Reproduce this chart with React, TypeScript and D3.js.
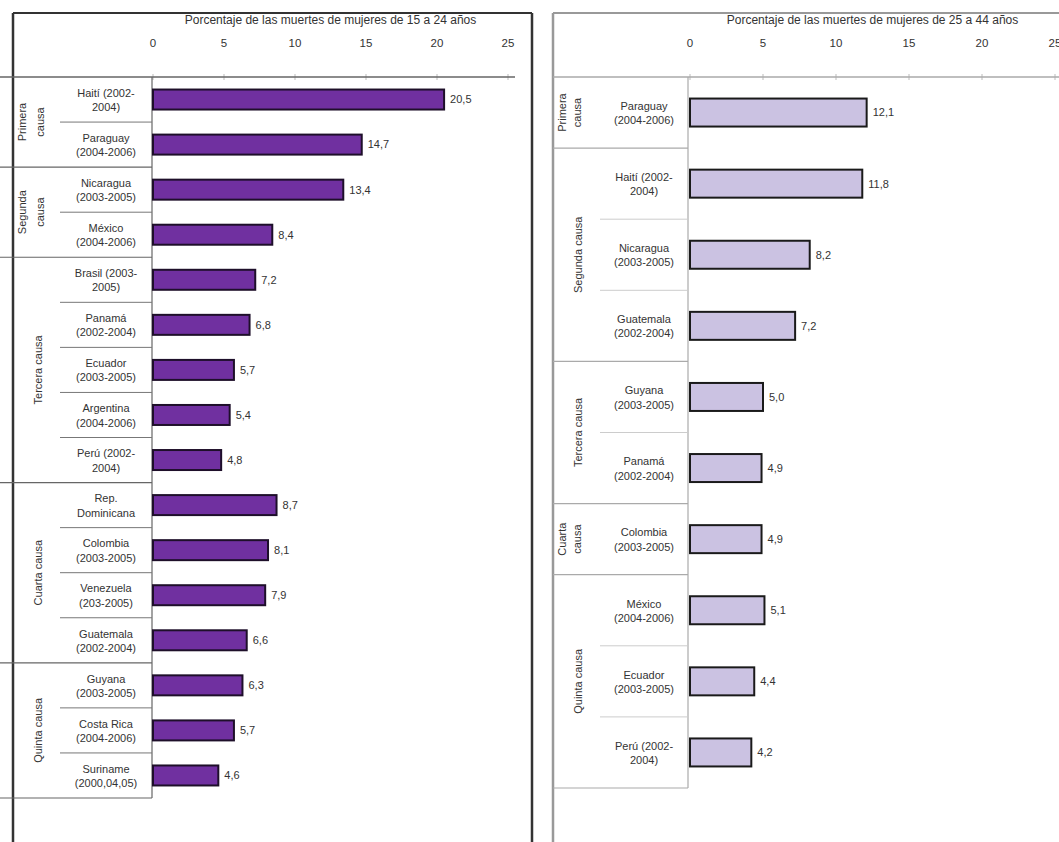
import React from "react";
import * as d3 from "d3";

const leftTitle = "Porcentaje de las muertes de mujeres de 15 a 24 años";
const rightTitle = "Porcentaje de las muertes de mujeres de 25 a 44 años";
const ticks = [0, 5, 10, 15, 20, 25];

const leftLabels = [
  ["Haití (2002-", "2004)"],
  ["Paraguay", "(2004-2006)"],
  ["Nicaragua", "(2003-2005)"],
  ["México", "(2004-2006)"],
  ["Brasil (2003-", "2005)"],
  ["Panamá", "(2002-2004)"],
  ["Ecuador", "(2003-2005)"],
  ["Argentina", "(2004-2006)"],
  ["Perú (2002-", "2004)"],
  ["Rep.", "Dominicana"],
  ["Colombia", "(2003-2005)"],
  ["Venezuela", "(203-2005)"],
  ["Guatemala", "(2002-2004)"],
  ["Guyana", "(2003-2005)"],
  ["Costa Rica", "(2004-2006)"],
  ["Suriname", "(2000,04,05)"],
];
const leftValues = [20.5, 14.7, 13.4, 8.4, 7.2, 6.8, 5.7, 5.4, 4.8, 8.7, 8.1, 7.9, 6.6, 6.3, 5.7, 4.6];
const leftGroupNames = [["Primera", "causa"], ["Segunda", "causa"], ["Tercera causa"], ["Cuarta causa"], ["Quinta causa"]];
const leftGroupSizes = [2, 2, 5, 4, 3];

const rightLabels = [
  ["Paraguay", "(2004-2006)"],
  ["Haití (2002-", "2004)"],
  ["Nicaragua", "(2003-2005)"],
  ["Guatemala", "(2002-2004)"],
  ["Guyana", "(2003-2005)"],
  ["Panamá", "(2002-2004)"],
  ["Colombia", "(2003-2005)"],
  ["México", "(2004-2006)"],
  ["Ecuador", "(2003-2005)"],
  ["Perú (2002-", "2004)"],
];
const rightValues = [12.1, 11.8, 8.2, 7.2, 5.0, 4.9, 4.9, 5.1, 4.4, 4.2];
const rightGroupNames = [["Primera", "causa"], ["Segunda causa"], ["Tercera causa"], ["Cuarta", "causa"], ["Quinta causa"]];
const rightGroupSizes = [1, 3, 2, 1, 3];

const FONT = "'Liberation Sans', Arial, sans-serif";
const fmt = (v: number) => d3.format(".1f")(v).replace(".", ",");

type PanelProps = {
  title: string;
  labels: string[][];
  values: number[];
  groupNames: string[][];
  groupSizes: number[];
  boxLeft: number;
  boxRight: number;
  lineLeft: number;
  groupColRight: number;
  labelColRight: number;
  axisRight: number;
  xRange: [number, number];
  rowTop: number;
  rowBottom: number;
  barH: number;
  fill: string;
  stroke: string;
  boxColor: string;
  lineColor: string;
  innerLineColor: string;
  twoLineX: [number, number];
  oneLineX: number;
};

function Panel(p: PanelProps) {
  const x = d3.scaleLinear().domain([0, 25]).range(p.xRange);
  const y = d3.scaleBand<number>().domain(d3.range(p.values.length)).range([p.rowTop, p.rowBottom]).padding(0);
  const step = y.step();
  const labelCx = (p.groupColRight + p.labelColRight) / 2;
  let acc = 0;
  const groups = p.groupSizes.map((n, i) => {
    const start = acc;
    acc += n;
    return { start, end: acc, names: p.groupNames[i] };
  });
  const titleCx = (p.xRange[0] + p.xRange[1]) / 2;
  return (
    <g fontFamily={FONT}>
      {/* box */}
      <line x1={p.boxLeft} x2={p.boxLeft} y1={13} y2={842} stroke={p.boxColor} strokeWidth={2.5} />
      <line x1={p.boxLeft} x2={p.boxRight} y1={13} y2={13} stroke={p.boxColor} strokeWidth={2} />
      {p.boxRight < 1059 && (
        <line x1={p.boxRight} x2={p.boxRight} y1={13} y2={842} stroke={p.boxColor} strokeWidth={2.5} />
      )}
      {/* title and ticks */}
      <text x={titleCx} y={24} textAnchor="middle" fontSize={12} fill="#333">{p.title}</text>
      {ticks.map((t) => (
        <g key={t}>
          <text x={x(t)} y={47} textAnchor="middle" fontSize={11.5} fill="#333">{t}</text>
          <line x1={x(t)} x2={x(t)} y1={74} y2={80} stroke="#bbb" strokeWidth={1} />
        </g>
      ))}
      <line x1={p.lineLeft} x2={p.axisRight} y1={y.range()[0]} y2={y.range()[0]} stroke={p.lineColor} strokeWidth={1.5} />
      {/* label column border */}
      <line x1={p.labelColRight} x2={p.labelColRight} y1={p.rowTop} y2={p.rowBottom} stroke={p.lineColor} strokeWidth={1.2} />
      {/* group lines */}
      {groups.map((g, i) => (
        <g key={i}>
          <line x1={p.lineLeft} x2={p.labelColRight} y1={p.rowTop + g.end * step} y2={p.rowTop + g.end * step} stroke={p.lineColor} strokeWidth={1.2} />
          {d3.range(g.start + 1, g.end).map((r) => (
            <line key={r} x1={p.groupColRight} x2={p.labelColRight} y1={p.rowTop + r * step} y2={p.rowTop + r * step} stroke={p.innerLineColor} strokeWidth={1} />
          ))}
          {g.names.map((nm, j) => {
            const cy = p.rowTop + ((g.start + g.end) / 2) * step;
            const gx = g.names.length === 2 ? p.twoLineX[j] : p.oneLineX;
            return (
              <text key={j} transform={`translate(${gx},${cy}) rotate(-90)`} textAnchor="middle" dy="0.35em" fontSize={11} fill="#333">
                {nm}
              </text>
            );
          })}
        </g>
      ))}
      {/* category labels */}
      {p.labels.map((lb, i) => {
        const cy = (y(i) as number) + step / 2;
        return (
          <text key={i} x={labelCx} y={cy} textAnchor="middle" fontSize={11} fill="#333">
            <tspan x={labelCx} dy="-0.25em">{lb[0]}</tspan>
            <tspan x={labelCx} dy="1.3em">{lb[1]}</tspan>
          </text>
        );
      })}
      {/* bars */}
      {p.values.map((v, i) => {
        const cy = (y(i) as number) + step / 2;
        return (
          <g key={i}>
            <rect x={x(0)} y={cy - p.barH / 2} width={x(v) - x(0)} height={p.barH} fill={p.fill} stroke={p.stroke} strokeWidth={2} />
            <text x={x(v) + 6} y={cy} dy="0.35em" fontSize={11} fill="#333">{fmt(v)}</text>
          </g>
        );
      })}
    </g>
  );
}

export default function App() {
  return (
    <svg width={1059} height={842} style={{ position: "absolute", left: 0, top: 0, background: "#fff" }}>
      <rect width={1059} height={842} fill="#fff" />
      <Panel
        title={leftTitle}
        labels={leftLabels}
        values={leftValues}
        groupNames={leftGroupNames}
        groupSizes={leftGroupSizes}
        boxLeft={13}
        boxRight={532}
        lineLeft={0}
        groupColRight={60}
        labelColRight={152}
        axisRight={515}
        xRange={[153, 508]}
        rowTop={77}
        rowBottom={798}
        barH={20}
        fill="#7030a0"
        stroke="#1e0f2a"
        boxColor="#333"
        lineColor="#666"
        innerLineColor="#777"
        twoLineX={[22, 40]}
        oneLineX={38}
      />
      <Panel
        title={rightTitle}
        labels={rightLabels}
        values={rightValues}
        groupNames={rightGroupNames}
        groupSizes={rightGroupSizes}
        boxLeft={553}
        boxRight={1059}
        lineLeft={553}
        groupColRight={600}
        labelColRight={688}
        axisRight={1059}
        xRange={[690, 1055]}
        rowTop={77}
        rowBottom={788}
        barH={28}
        fill="#cbc2e2"
        stroke="#1a1a1a"
        boxColor="#999"
        lineColor="#aaa"
        innerLineColor="#ccc"
        twoLineX={[562, 577]}
        oneLineX={578}
      />
    </svg>
  );
}
